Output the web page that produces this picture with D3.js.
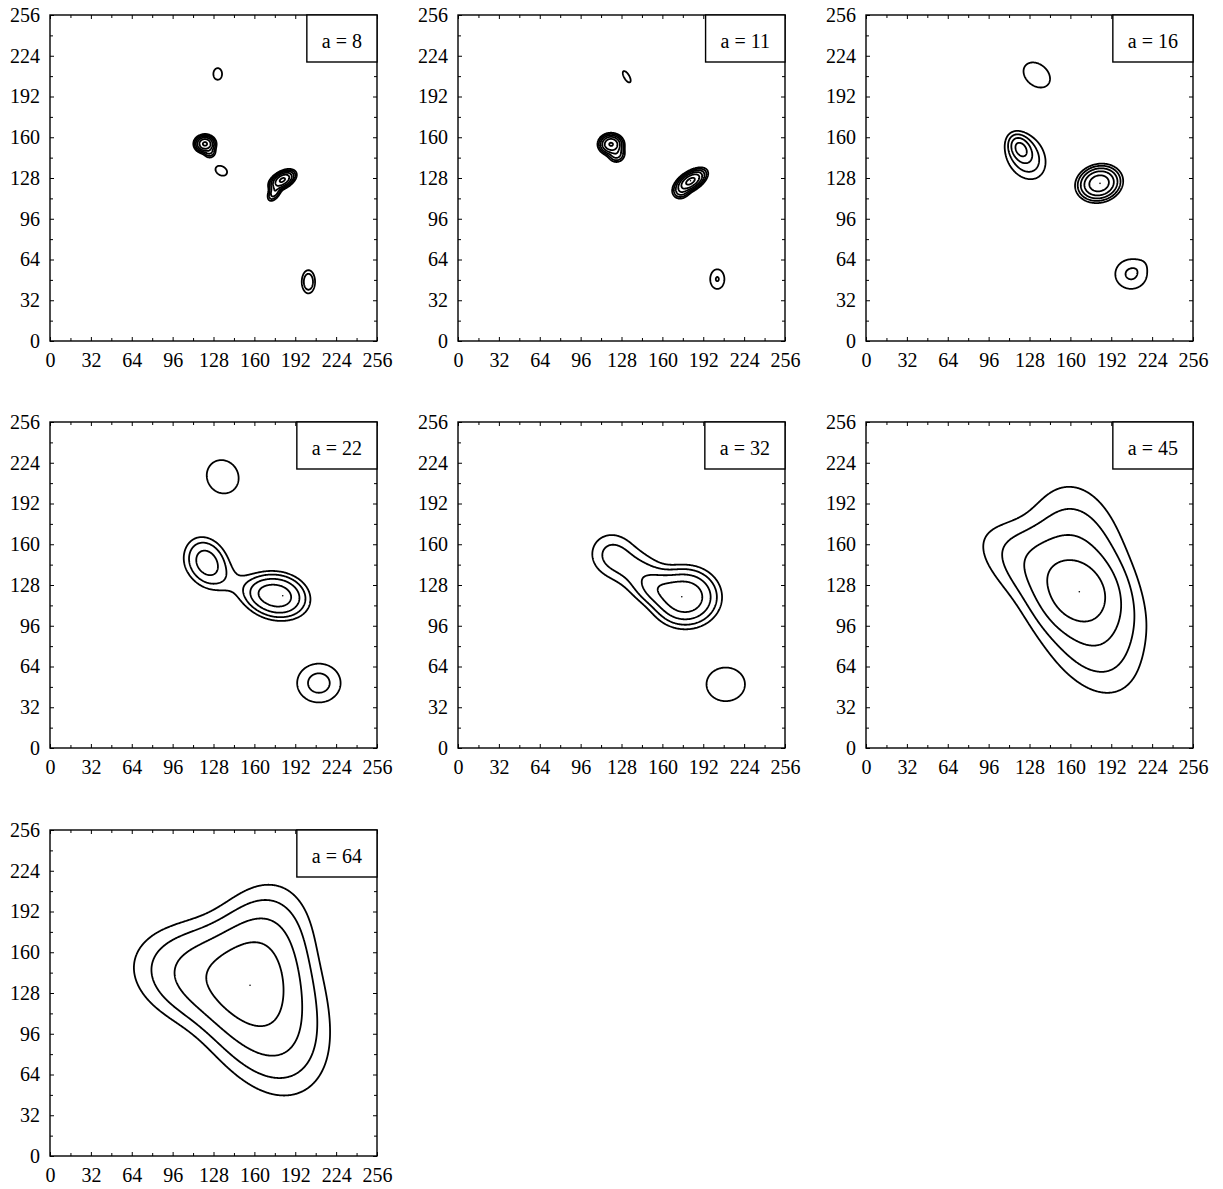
<!DOCTYPE html>
<html>
<head>
<meta charset="utf-8">
<script src="https://cdn.jsdelivr.net/npm/d3@7"></script>
<style>
  body { margin: 0; background: #fff; }
  svg text { font-family: "Liberation Serif", "Times New Roman", serif; fill: #000; }
</style>
</head>
<body>
<script>
// scale of each panel
var scales = [8, 11, 16, 22, 32, 45, 64];

// contour levels, doubling from the outermost one
var levels = [1, 2, 4, 8, 16, 32];

// tick values on both axes
var majorTicks = [0, 32, 64, 96, 128, 160, 192, 224, 256];
var minorTicks = [16, 48, 80, 112, 144, 176, 208, 240];

// gaussian bumps: [x, y, sigma1, sigma2, angle(deg), amplitude]
var blobs8 = [
  [131.3, 209.7, 3.5, 4.7, 0, 1.6],
  [121.3, 154.8, 3.4, 2.9, 0, 36],
  [125.0, 148.5, 2.6, 2.6, 0, 4],
  [134.1, 133.7, 5.0, 3.6, -30, 1.6],
  [182.0, 126.5, 4.6, 2.6, 30, 36],
  [176.0, 117.5, 4.2, 2.2, 60, 7],
  [202.3, 46.5, 3.2, 5.6, 0, 3.75]
];
var blobs11 = [
  [132.1, 207.5, 5.6, 2.3, -60, 1.5],
  [119.8, 154.5, 4.0, 3.4, 0, 34],
  [124.0, 147.0, 3.4, 3.4, 0, 6],
  [182.0, 125.5, 5.8, 2.9, 33, 40],
  [175.0, 117.0, 3.5, 2.8, 30, 4],
  [203.0, 48.6, 4.6, 6.4, 0, 2.07]
];
var blobs16 = [
  [133.7, 208.9, 11.2, 8.2, -40, 1.7],
  [121.0, 151.0, 5.8, 4.0, -60, 8.5],
  [125.0, 145.0, 12.0, 9.0, -60, 3.5],
  [182.5, 123.8, 7.4, 5.9, 15, 27.7],
  [207.5, 52.5, 9.8, 9.2, 0, 2.2],
  [216.0, 60.0, 5.0, 4.0, 30, 0.3]
];
var blobs22 = [
  [135.2, 213.0, 13.0, 11.8, -60, 1.7],
  [122.7, 146.3, 11.0, 8.5, -60, 5.5],
  [178.0, 119.5, 11.5, 8.5, -10, 12],
  [166.0, 122.0, 7.0, 6.0, 0, 2],
  [150.0, 127.0, 28.0, 9.0, -22, 1.1],
  [210.5, 51.0, 12.5, 11.2, 0, 2.52]
];
var blobs32 = [
  [209.6, 50.0, 14.6, 12.8, 0, 1.7],
  [178.0, 118.5, 12.5, 11.0, 0, 14],
  [157.0, 125.0, 10.5, 7.5, -15, 4.2],
  [143.0, 137.0, 15.0, 10.0, -30, 2.5],
  [120.5, 152.0, 12.0, 11.5, -40, 2.2]
];
var blobs45 = [
  [164.3, 144.5, 38.0, 23.0, 97, 3.4],
  [144.5, 135.7, 37.0, 17.0, 150, 3.4],
  [175.2, 102.3, 38.0, 22.0, -68, 3.5],
  [166.0, 121.0, 17.0, 16.0, 0, 5]
];
var blobs64 = [
  [163.2, 153.3, 32.0, 21.0, 75, 5.8],
  [128.7, 140.2, 34.0, 22.0, 168, 5.8],
  [168.2, 112.3, 36.0, 24.0, -65, 6.0]
];

// maxima marked with a dot
var peaks = [
  [180.0, 125.6], [182.0, 125.8], [183.2, 123.8], [182.2, 119.6],
  [175.2, 118.8], [167.0, 122.7], [156.6, 134.1]
];

var allBlobs = [blobs8, blobs11, blobs16, blobs22, blobs32, blobs45, blobs64];

var panelW = 327, panelH = 326;
var colX = [50, 458, 866], rowY = [15, 422, 830];

var svg = d3.select("body").append("svg")
  .attr("width", 1223)
  .attr("height", 1189);

var x = d3.scaleLinear().domain([0, 256]).range([0, panelW]);
var y = d3.scaleLinear().domain([0, 256]).range([panelH, 0]);

// sample the sum of bumps on a fine grid
var n = 512, step = 256 / n;
function field(blobs) {
  var values = new Float64Array(n * n);
  blobs.forEach(function(b) {
    var cx = b[0], cy = b[1], s1 = b[2], s2 = b[3], amp = b[5];
    var t = b[4] * Math.PI / 180, c = Math.cos(t), s = Math.sin(t);
    var reach = 7 * Math.max(s1, s2);
    var i0 = Math.max(0, Math.floor((cx - reach) / step)),
        i1 = Math.min(n - 1, Math.ceil((cx + reach) / step)),
        j0 = Math.max(0, Math.floor((256 - cy - reach) / step)),
        j1 = Math.min(n - 1, Math.ceil((256 - cy + reach) / step));
    for (var j = j0; j <= j1; j++) {
      var dy = 256 - (j + 0.5) * step - cy;
      for (var i = i0; i <= i1; i++) {
        var dx = (i + 0.5) * step - cx;
        var u = dx * c + dy * s, v = -dx * s + dy * c;
        values[j * n + i] += amp * Math.exp(-0.5 * (u * u / (s1 * s1) + v * v / (s2 * s2)));
      }
    }
  });
  return values;
}

var path = d3.geoPath(d3.geoTransform({
  point: function(gx, gy) { this.stream.point(x(gx * step), y(256 - gy * step)); }
}));

scales.forEach(function(a, k) {
  var g = svg.append("g")
    .attr("transform", "translate(" + colX[k % 3] + "," + rowY[Math.floor(k / 3)] + ")");

  // contours
  var contours = d3.contours().size([n, n]).thresholds(levels)(field(allBlobs[k]));
  g.append("g")
    .selectAll("path")
    .data(contours.filter(function(d) { return d.coordinates.length; }))
    .enter().append("path")
    .attr("d", path)
    .attr("fill", "none")
    .attr("stroke", "#000")
    .attr("stroke-width", 1.8)
    .attr("stroke-linejoin", "round");

  g.append("circle")
    .attr("cx", x(peaks[k][0]))
    .attr("cy", y(peaks[k][1]))
    .attr("r", 0.8)
    .attr("fill", "#000");

  // axes: labelled ticks bottom / left, small ticks all round
  var bottom = g.append("g").attr("transform", "translate(0," + panelH + ")");
  bottom.call(d3.axisBottom(x).tickValues(majorTicks).tickSize(-4).tickSizeOuter(0).tickPadding(12));
  bottom.append("g").call(d3.axisBottom(x).tickValues(minorTicks).tickSize(-3).tickFormat(""));

  var left = g.append("g");
  left.call(d3.axisLeft(y).tickValues(majorTicks).tickSize(-4).tickSizeOuter(0).tickPadding(10));
  left.append("g").call(d3.axisLeft(y).tickValues(minorTicks).tickSize(-3).tickFormat(""));

  g.append("g").call(d3.axisTop(x).tickValues(majorTicks).tickSize(-4).tickFormat(""));
  g.append("g").call(d3.axisTop(x).tickValues(minorTicks).tickSize(-3).tickFormat(""));
  g.append("g").attr("transform", "translate(" + panelW + ",0)")
    .call(d3.axisRight(y).tickValues(majorTicks).tickSize(-4).tickFormat(""));
  g.append("g").attr("transform", "translate(" + panelW + ",0)")
    .call(d3.axisRight(y).tickValues(minorTicks).tickSize(-3).tickFormat(""));

  g.selectAll(".domain").remove();
  g.selectAll(".tick line").attr("stroke", "#000").attr("stroke-width", 1);
  g.selectAll(".tick text").attr("font-size", 20).attr("font-family", null);

  g.append("rect")
    .attr("width", panelW)
    .attr("height", panelH)
    .attr("fill", "none")
    .attr("stroke", "#000")
    .attr("stroke-width", 1.4);

  // scale label box in the top right corner
  var box = g.append("rect")
    .attr("y", 0)
    .attr("height", 47)
    .attr("fill", "#fff")
    .attr("stroke", "#000")
    .attr("stroke-width", 1.4);
  var label = g.append("text")
    .attr("y", 33)
    .attr("text-anchor", "middle")
    .attr("font-size", 20)
    .text("a = " + a);
  var w = label.node().getComputedTextLength() + 30;
  box.attr("x", panelW - w).attr("width", w);
  label.attr("x", panelW - w / 2);
});
</script>
</body>
</html>
